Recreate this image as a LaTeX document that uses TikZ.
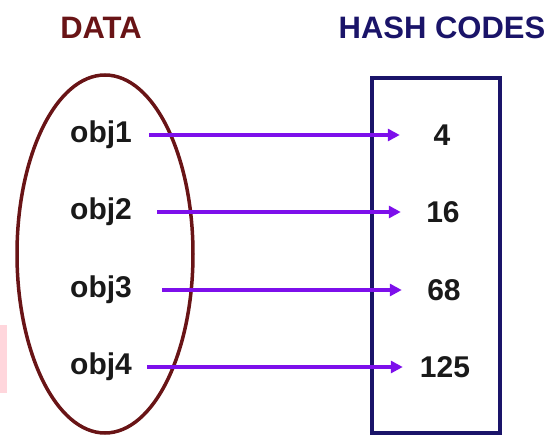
\documentclass[tikz,border=0pt]{standalone}
\usepackage{fontspec}
\setmainfont{Liberation Sans}
\usetikzlibrary{arrows.meta}
\definecolor{datared}{RGB}{105,20,22}
\definecolor{hashblue}{RGB}{26,20,105}
\definecolor{arrowpurple}{RGB}{125,15,235}
\definecolor{edgepink}{RGB}{255,214,220}
\tikzset{
  title/.style={font=\bfseries\fontsize{31}{36}\selectfont, inner sep=0pt},
  objlabel/.style={font=\bfseries\fontsize{30}{34}\selectfont, inner sep=0pt, anchor=west, text=black!90},
  codelabel/.style={font=\bfseries\fontsize{30}{34}\selectfont, inner sep=0pt, minimum width=84pt, text=black!90},
  arr/.style={draw=arrowpurple, line width=3.8pt, -{Triangle[length=12pt,width=12pt]}},
}
\begin{document}
\begin{tikzpicture}[x=1pt,y=-1pt]
\useasboundingbox (0,0) rectangle (555,436);
\fill[edgepink] (0,325) rectangle (7,393);
\node[title, text=datared] (data) at (101,28) {DATA};
\node[title, text=hashblue] (hash) at (442,28) {HASH CODES};
\draw[datared, line width=3.5pt] (105,254) ellipse [x radius=88pt, y radius=179pt];
\node[draw=hashblue, line width=4pt, minimum width=128pt, minimum height=354pt, inner sep=0pt] (box) at (436,255.5) {};
\node[objlabel] (o1) at (70,135) {obj1};
\node[objlabel] (o2) at (70,212) {obj2};
\node[objlabel] (o3) at (70,290) {obj3};
\node[objlabel] (o4) at (70,367) {obj4};
\node[codelabel] (n1) at (442,135) {4};
\node[codelabel] (n2) at (443,212) {16};
\node[codelabel] (n3) at (444,290) {68};
\node[codelabel] (n4) at (445,367) {125};
\draw[arr, shorten <=17pt] (o1.east) -- (n1.west);
\draw[arr, shorten <=25pt] (o2.east) -- (n2.west);
\draw[arr, shorten <=30pt] (o3.east) -- (n3.west);
\draw[arr, shorten <=15pt] (o4.east) -- (n4.west);
\end{tikzpicture}
\end{document}
